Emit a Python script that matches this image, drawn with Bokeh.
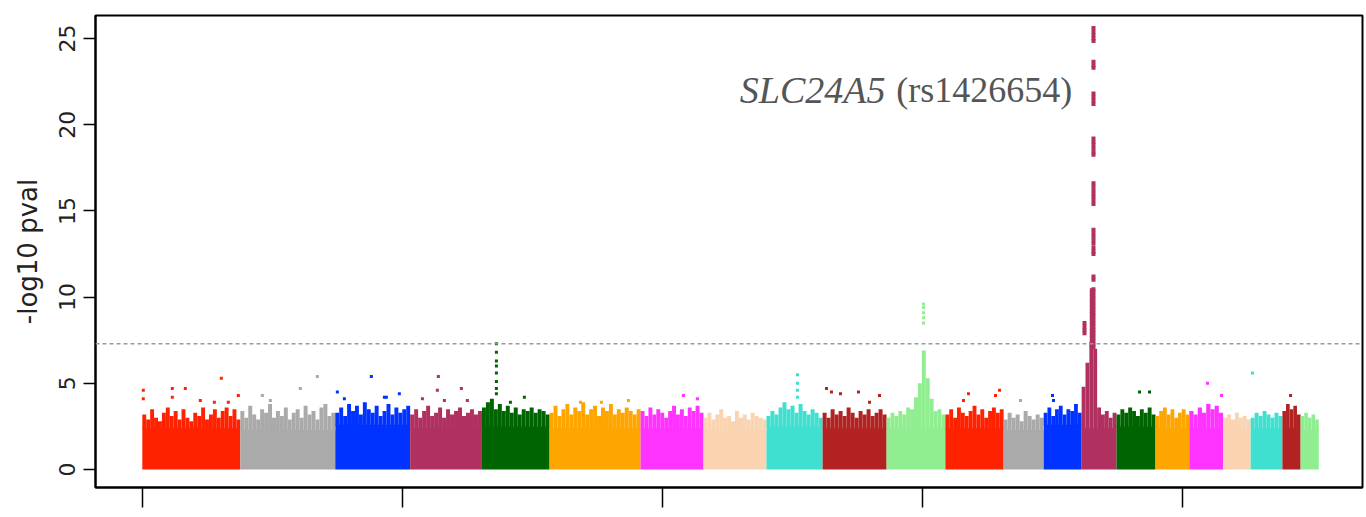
from bokeh.plotting import figure
from bokeh.models import Range1d, FixedTicker, Span
from bokeh.core.properties import value
from bokeh.embed import file_html
from bokeh.resources import INLINE

# ---------------- data ----------------
chrom_names = [str(i) for i in range(1, 23)]
chrom_start = [0, 188.5, 371, 515, 653, 783, 958, 1079, 1200, 1308, 1431,
               1544, 1656, 1733, 1806, 1873, 1948, 2013, 2078, 2131, 2192, 2227]
chrom_end = [188.5, 371, 515, 653, 783, 958, 1079, 1200, 1308, 1431, 1544,
             1656, 1733, 1806, 1873, 1948, 2013, 2078, 2131, 2192, 2227, 2262]
palette = ["#ff2200", "#aaaaaa", "#0033ff", "#b03060", "#006400", "#ffa500",
           "#ff33ff", "#fad3b0", "#40e0d0", "#b22222", "#90ee90"]
chrom_color = [palette[i % 11] for i in range(22)]

# solid level of the dense cloud of SNPs per chromosome
chrom_base = [2.4, 2.3, 2.6, 2.4, 2.5, 2.4, 2.4, 2.3, 2.5, 2.4, 2.4,
              2.4, 2.3, 2.6, 2.4, 2.5, 2.4, 2.4, 2.3, 2.4, 2.4, 2.3]

# upper envelope of the SNP cloud along each chromosome
chrom_envelope = [
    [3.2, 2.9, 3.5, 3.0, 2.8, 3.3, 3.6, 3.1, 3.4, 2.9, 3.5, 3.0, 2.8, 3.3, 3.1, 3.6, 2.9, 3.2, 3.5, 3.0, 3.4, 3.6, 3.1, 3.5, 2.9],
    [3.4, 3.0, 3.7, 3.2, 2.9, 3.5, 3.3, 3.8, 3.0, 3.4, 3.1, 3.6, 2.9, 3.3, 3.5, 3.0, 3.7, 3.2, 3.4, 2.9, 3.6, 3.8, 3.1, 3.3],
    [3.3, 3.6, 3.1, 3.8, 3.4, 3.7, 3.2, 3.9, 3.5, 3.3, 3.7, 3.1, 3.4, 3.8, 3.2, 3.6, 3.3, 3.5, 3.7],
    [3.2, 3.5, 3.0, 3.4, 3.7, 3.1, 3.3, 3.6, 3.0, 3.5, 3.2, 3.4, 3.6, 3.1, 3.3, 3.5, 3.2, 3.4],
    [3.6, 3.9, 4.1, 3.5, 3.8, 3.4, 3.7, 3.3, 3.6, 3.2, 3.5, 3.4, 3.6, 3.3, 3.5, 3.4, 3.2],
    [3.3, 3.7, 3.1, 3.5, 3.8, 3.2, 3.6, 3.4, 3.9, 3.2, 3.5, 3.7, 3.1, 3.6, 3.4, 3.8, 3.2, 3.5, 3.3, 3.6, 3.4, 3.2, 3.5],
    [3.4, 3.1, 3.6, 3.2, 3.5, 3.3, 3.0, 3.4, 3.7, 3.2, 3.5, 3.1, 3.6, 3.4, 3.7, 3.3],
    [3.0, 3.3, 2.9, 3.2, 3.5, 3.0, 3.1, 2.8, 3.4, 3.0, 3.2, 2.9, 3.3, 3.1, 3.0, 2.9],
    [3.1, 3.4, 3.2, 3.6, 3.9, 3.5, 3.7, 3.3, 3.8, 3.4, 3.2, 3.5, 3.3, 3.0],
    [3.3, 3.0, 3.5, 3.2, 3.4, 3.1, 3.6, 3.3, 3.0, 3.4, 3.2, 3.5, 3.1, 3.3, 3.5, 3.2],
    [3.0, 3.3, 3.1, 3.4, 3.2, 3.6, 3.5, 4.2, 5.0, 6.9, 5.3, 4.1, 3.4, 3.5, 3.2],
    [3.2, 3.5, 3.0, 3.6, 3.3, 3.1, 3.4, 3.7, 3.2, 3.5, 3.0, 3.4, 3.6, 3.3, 3.5],
    [2.9, 3.3, 3.0, 3.2, 2.8, 3.4, 3.1, 2.9, 3.2, 3.0],
    [3.3, 3.6, 3.1, 3.5, 3.7, 3.2, 3.5, 3.4, 3.8, 3.3],
    [4.8, 6.2, 7.4, 7.0, 3.6, 3.2, 3.4, 3.0, 3.3],
    [3.2, 3.5, 3.3, 3.6, 3.4, 3.1, 3.5, 3.3, 3.6, 3.2],
    [3.1, 3.4, 3.6, 3.2, 3.5, 3.0, 3.3, 3.5, 3.2],
    [3.4, 3.2, 3.6, 3.3, 3.8, 3.5, 3.7, 3.3],
    [3.0, 3.2, 2.9, 3.3, 3.0, 3.1, 2.9],
    [3.0, 3.3, 3.1, 3.4, 3.2, 3.0, 3.3, 3.1],
    [3.4, 3.8, 3.5, 3.7, 3.2],
    [3.1, 3.3, 3.0, 3.2, 2.9],
]

# individual SNPs standing out of the cloud: position, -log10 p
snp_pos = [1.9, 1.9, 57.7, 57.7, 82.7, 111.5, 138.5, 151.9, 165.4, 184.6,
           230.8, 246.2, 303.8, 336.5,
           375, 388.5, 440.4, 465.4, 469.2, 494.2,
           538.5, 567.3, 569.2, 580.8, 613.5, 625,
           680.8, 680.8, 680.8, 680.8, 680.8, 680.8, 680.8, 680.8, 707.7, 734.6,
           842.3, 882.7, 934.6,
           1040.4, 1067.3,
           1259.6, 1259.6, 1259.6, 1259.6,
           1315.4, 1325, 1342.3, 1376.9, 1398.1, 1417.3,
           1501.9, 1501.9, 1501.9, 1501.9, 1501.9,
           1578.8, 1588.5, 1640.4, 1648.1,
           1688.5,
           1750, 1751.9,
           1917.3, 1936.5,
           2048, 2075,
           2134.6,
           2207.7]
snp_val = [4.6, 4.1, 4.7, 4.2, 4.7, 4.0, 3.9, 5.3, 3.9, 4.3,
           4.3, 4.0, 4.7, 5.4,
           4.5, 4.1, 5.4, 4.2, 4.2, 4.4,
           4.1, 4.6, 5.4, 4.0, 4.7, 4.0,
           4.4, 4.7, 5.1, 5.6, 6.0, 6.3, 6.8, 7.3, 3.9, 4.2,
           3.9, 3.9, 4.0,
           4.3, 4.1,
           4.2, 4.6, 5.0, 5.5,
           4.7, 4.5, 4.4, 4.5, 3.9, 4.3,
           8.5, 8.8, 9.1, 9.4, 9.6,
           4.0, 4.4, 4.3, 4.6,
           4.0,
           4.3, 4.0,
           4.5, 4.5,
           5.0, 4.3,
           5.6,
           4.3]

# SLC24A5 (rs1426654) signal on chromosome 15
peak_pos = [1828.8] * 53 + [1825.5] * 17 + [1811.5] * 4
peak_val = [25.6, 25.4, 25.2, 25.0, 24.85,
            23.65, 23.45, 23.3,
            21.8, 21.6, 21.4, 21.2,
            19.2, 19.0, 18.8, 18.6, 18.4, 18.25,
            16.6, 16.4, 16.2, 16.0, 15.8, 15.6, 15.4,
            13.9, 13.7, 13.5, 13.3, 13.1,
            12.85, 12.65, 12.5,
            11.2, 11.0,
            10.45, 10.3, 10.1, 9.9, 9.7, 9.5, 9.3, 9.1, 8.9, 8.7, 8.5, 8.3, 8.1, 7.9, 7.7, 7.5, 7.3, 7.1,
            10.4, 10.2, 10.0, 9.8, 9.6, 9.4, 9.2, 9.0, 8.8, 8.6, 8.4, 8.2, 8.0, 7.8, 7.6, 7.4, 7.2,
            8.5, 8.3, 8.1, 7.9]

threshold = 7.3
y_ticks = [0, 5, 10, 15, 20, 25]
x_ticks = [0, 500, 1000, 1500, 2000]
label_gene = "SLC24A5"
label_snp = "(rs1426654)"
label_pos = [1429, 1788]
label_y = 22.0

# ---------------- figure ----------------
p = figure(width=1366, height=517, x_range=Range1d(-90, 2346), y_range=Range1d(-1.04, 26.33),
           output_backend="svg", toolbar_location=None,
           min_border_left=95, min_border_right=4, min_border_top=15, min_border_bottom=30)
p.background_fill_color = "white"
p.border_fill_color = "white"
p.outline_line_color = "black"
p.outline_line_width = 2
p.grid.visible = False

# solid part of each chromosome's cloud
p.quad(left=chrom_start, right=chrom_end, bottom=[0] * 22, top=chrom_base,
       fill_color=chrom_color, line_color=None)

# jagged envelope
el, er, et, eb, ec = [], [], [], [], []
for s, e, b, env, col in zip(chrom_start, chrom_end, chrom_base, chrom_envelope, chrom_color):
    n = len(env)
    w = (e - s) / n
    for i, v in enumerate(env):
        el.append(s + i * w)
        er.append(s + (i + 1) * w)
        eb.append(b - 0.05)
        et.append(v)
        ec.append(col)
p.quad(left=el, right=er, bottom=eb, top=et, fill_color=ec, line_color=None)


def color_of(x):
    for s, e, c in zip(chrom_start, chrom_end, chrom_color):
        if s <= x < e:
            return c
    return chrom_color[-1]


p.scatter(x=snp_pos, y=snp_val, marker="square", size=3,
          fill_color=[color_of(x) for x in snp_pos], line_color=None)
p.scatter(x=peak_pos, y=peak_val, marker="square", size=4,
          fill_color=[color_of(x) for x in peak_pos], line_color=None)

# genome-wide significance line
p.add_layout(Span(location=threshold, dimension="width", line_color="#9a9a9a",
                  line_dash="4 3", line_width=1.5))

# annotation
p.text(x=[label_pos[0]], y=[label_y], text=[label_gene], text_font=value("Liberation Serif"),
       text_font_style="italic", text_font_size="38px", text_color="#555555",
       text_align="right", text_baseline="alphabetic")
p.text(x=[label_pos[1]], y=[label_y], text=[label_snp], text_font=value("Liberation Serif"),
       text_font_size="36px", text_color="#555555",
       text_align="right", text_baseline="alphabetic")

# axes
p.yaxis.ticker = FixedTicker(ticks=y_ticks)
p.yaxis.minor_tick_line_color = None
p.yaxis.major_tick_in = 0
p.yaxis.major_tick_out = 12
p.yaxis.major_tick_line_width = 1.5
p.yaxis.axis_line_width = 2
p.yaxis.major_label_orientation = "vertical"
p.yaxis.major_label_text_font = "DejaVu Sans"
p.yaxis.major_label_text_font_size = "22px"
p.yaxis.major_label_text_color = "#222222"
p.yaxis.major_label_standoff = 8
p.yaxis.axis_label = "-log10 pval"
p.yaxis.axis_label_text_font = "DejaVu Sans"
p.yaxis.axis_label_text_font_style = "normal"
p.yaxis.axis_label_text_font_size = "26px"
p.yaxis.axis_label_text_color = "#222222"
p.yaxis.axis_label_standoff = 14

p.xaxis.ticker = FixedTicker(ticks=x_ticks)
p.xaxis.minor_tick_line_color = None
p.xaxis.major_tick_in = 0
p.xaxis.major_tick_out = 20
p.xaxis.major_tick_line_width = 1.5
p.xaxis.axis_line_width = 2
p.xaxis.major_label_text_color = None
p.xaxis.major_label_standoff = 0

open("out.html", "w").write(file_html(p, INLINE))
